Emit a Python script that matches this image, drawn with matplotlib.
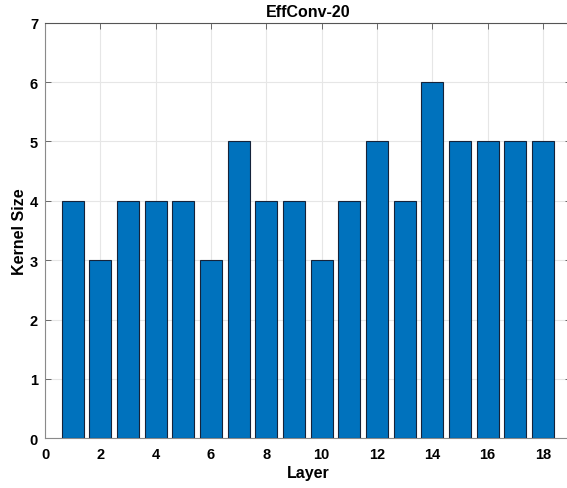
import matplotlib.pyplot as plt
import numpy as np

plt.rcParams['font.family'] = ['Liberation Sans', 'DejaVu Sans']
plt.rcParams['font.weight'] = 'bold'

layers = np.arange(1, 19)
kernel_size = [4, 3, 4, 4, 4, 3, 5, 4, 4, 3, 4, 5, 4, 6, 5, 5, 5, 5]

fig = plt.figure(figsize=(5.67, 4.89), dpi=100)
ax = fig.add_axes([0.0794, 0.1016, 0.927, 0.850])

ax.bar(layers, kernel_size, width=0.8, color='#0072BD', edgecolor='#15233a', linewidth=0.8, zorder=3)

ax.set_xlim(0, 19)
ax.set_ylim(0, 7)
ax.set_xticks(np.arange(0, 19, 2))
ax.set_yticks(np.arange(0, 8, 1))
ax.grid(True, color='#e6e6e6', linewidth=0.8, zorder=0)
ax.tick_params(direction='in', length=4, width=0.6, color='#555555', labelsize=10.5,
               top=True, right=True)
ax.tick_params(axis='x', pad=6)
ax.tick_params(axis='y', pad=5)
for lbl in ax.get_xticklabels() + ax.get_yticklabels():
    lbl.set_fontweight('bold')
for s in ax.spines.values():
    s.set_color('#8a8a8a')
    s.set_linewidth(0.8)
ax.spines['top'].set_color('#555555')

ax.set_xlabel('Layer', fontsize=11.5, fontweight='bold', labelpad=3)
ax.set_ylabel('Kernel Size', fontsize=11.5, fontweight='bold', labelpad=2)
ax.set_title('EffConv-20', fontsize=11.5, fontweight='bold', pad=5)

fig.savefig('out.png', dpi=100)
